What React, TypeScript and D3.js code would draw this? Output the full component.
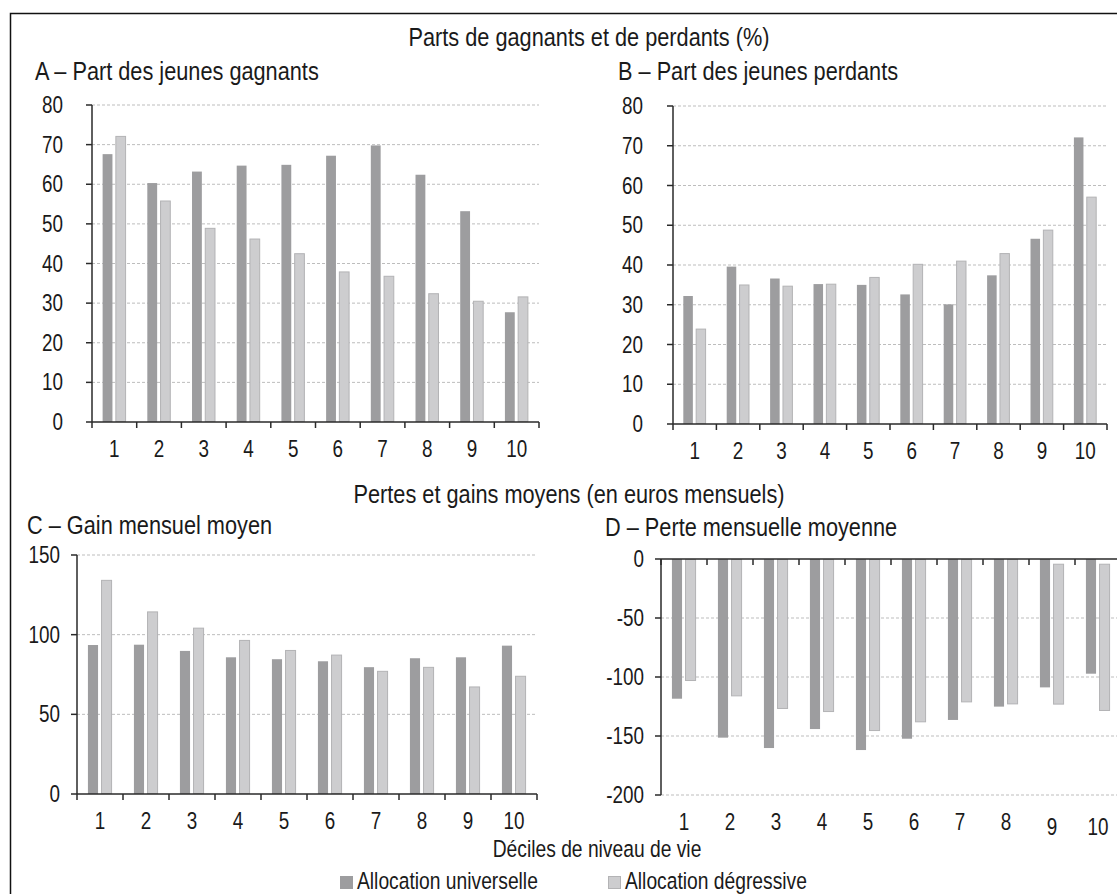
import React, { useEffect, useRef } from 'react';
import * as d3 from 'd3';

// déciles de niveau de vie
const deciles = ['1', '2', '3', '4', '5', '6', '7', '8', '9', '10'];
const seriesNames = ['Allocation universelle', 'Allocation dégressive'];

// A – part des jeunes gagnants (%)
const gagnantsUniv = [67.6, 60.3, 63.2, 64.7, 64.9, 67.2, 69.8, 62.4, 53.2, 27.7];
const gagnantsDegr = [72.2, 55.9, 49.0, 46.3, 42.6, 38.0, 36.9, 32.5, 30.6, 31.7];

// B – part des jeunes perdants (%)
const perdantsUniv = [32.2, 39.6, 36.6, 35.2, 35.0, 32.6, 30.1, 37.4, 46.6, 72.1];
const perdantsDegr = [24.0, 35.1, 34.8, 35.3, 37.0, 40.3, 41.1, 43.0, 48.9, 57.2];

// C – gain mensuel moyen (euros)
const gainUniv = [93.5, 93.7, 89.8, 85.8, 84.6, 83.3, 79.6, 85.2, 85.8, 93.1];
const gainDegr = [134.4, 114.6, 104.4, 96.7, 90.4, 87.5, 77.3, 79.8, 67.5, 74.2];

// D – perte mensuelle moyenne (euros)
const perteUniv = [-118.4, -151.4, -160.2, -144.1, -161.9, -152.3, -136.4, -125.1, -108.8, -97.2];
const perteDegr = [-103.4, -116.4, -127.1, -129.7, -145.8, -138.4, -121.5, -123.2, -123.4, -128.8];
// dans l'original les barres 9 et 10 ne partent pas tout à fait de 0
const perteDegrStart = [0, 0, 0, 0, 0, 0, 0, 0, -4, -4];

const pctTicks = [0, 10, 20, 30, 40, 50, 60, 70, 80];
const gainTicks = [0, 50, 100, 150];
const perteTicks = [0, -50, -100, -150, -200];

// pas de police étroite installée : Liberation Sans compressée horizontalement
const FONT = "'Liberation Sans', Arial, sans-serif";
const SX = 0.82;
const DARK = '#9d9d9f';
const LIGHT = '#cdcdcf';
const LIGHT_STROKE = '#b3b3b5';
const AXIS = '#2a2a2a';
const TEXT = '#1a1a1a';

const place = (x: number, y: number) => `translate(${x},${y}) scale(${SX},1)`;

type Panel = {
  title: string;
  titleX: number;
  titleY: number;
  x0: number;
  x1: number;
  yTop: number;
  yBottom: number;
  domain: [number, number];
  ticks: number[];
  univ: number[];
  degr: number[];
  degrStart?: number[];
  labelGap: number;
  axisOnTop?: boolean;
};

const panels: Panel[] = [
  {
    title: 'A – Part des jeunes gagnants', titleX: 35, titleY: 80,
    x0: 92, x1: 539, yTop: 105, yBottom: 422, domain: [0, 80], ticks: pctTicks,
    univ: gagnantsUniv, degr: gagnantsDegr, labelGap: 29,
  },
  {
    title: 'B – Part des jeunes perdants', titleX: 618, titleY: 80,
    x0: 673, x1: 1107, yTop: 106, yBottom: 424, domain: [0, 80], ticks: pctTicks,
    univ: perdantsUniv, degr: perdantsDegr, labelGap: 30,
  },
  {
    title: 'C – Gain mensuel moyen', titleX: 27, titleY: 534,
    x0: 77, x1: 537, yTop: 555, yBottom: 794, domain: [0, 150], ticks: gainTicks,
    univ: gainUniv, degr: gainDegr, labelGap: 17,
  },
  {
    title: 'D – Perte mensuelle moyenne', titleX: 605, titleY: 536,
    x0: 661, x1: 1121, yTop: 559, yBottom: 795, domain: [-200, 0], ticks: perteTicks,
    univ: perteUniv, degr: perteDegr, degrStart: perteDegrStart, labelGap: 17, axisOnTop: true,
  },
];

function drawPanel(svg: d3.Selection<SVGSVGElement, unknown, null, undefined>, p: Panel) {
  const g = svg.append('g');

  const x = d3.scaleBand<string>().domain(deciles).range([p.x0, p.x1]).padding(0);
  const y = d3.scaleLinear().domain(p.domain).range([p.yBottom, p.yTop]);
  const bw = x.bandwidth();

  // largeur des barres en fraction de la bande
  const wDark = 0.22, gap = 0.065, wLight = 0.24;
  const off = (1 - (wDark + gap + wLight)) / 2;

  g.append('text')
    .attr('transform', place(p.titleX, p.titleY))
    .attr('fill', TEXT)
    .style('font-size', '26.5px')
    .text(p.title);

  // grille pointillée
  g.selectAll('line.grid')
    .data(p.ticks.filter(t => t !== 0))
    .join('line')
    .attr('class', 'grid')
    .attr('x1', p.x0)
    .attr('x2', p.x1)
    .attr('y1', d => y(d))
    .attr('y2', d => y(d))
    .attr('stroke', '#bdbdbd')
    .attr('stroke-width', 1)
    .attr('stroke-dasharray', '3,2');

  const start = p.degrStart || p.degr.map(() => 0);

  g.selectAll('rect.univ')
    .data(p.univ)
    .join('rect')
    .attr('class', 'univ')
    .attr('x', (_, i) => x(deciles[i])! + bw * off)
    .attr('width', bw * wDark)
    .attr('y', d => y(Math.max(0, d)))
    .attr('height', d => Math.abs(y(d) - y(0)))
    .attr('fill', DARK);

  g.selectAll('rect.degr')
    .data(p.degr)
    .join('rect')
    .attr('class', 'degr')
    .attr('x', (_, i) => x(deciles[i])! + bw * (off + wDark + gap) + 0.5)
    .attr('width', bw * wLight - 1)
    .attr('y', (d, i) => Math.min(y(d), y(start[i])) + 0.5)
    .attr('height', (d, i) => Math.abs(y(d) - y(start[i])) - 1)
    .attr('fill', LIGHT)
    .attr('stroke', LIGHT_STROKE)
    .attr('stroke-width', 1);

  // axe vertical
  g.append('line')
    .attr('x1', p.x0).attr('x2', p.x0)
    .attr('y1', p.yTop).attr('y2', p.yBottom)
    .attr('stroke', AXIS).attr('stroke-width', 1.5);

  g.selectAll('line.ytick')
    .data(p.ticks)
    .join('line')
    .attr('class', 'ytick')
    .attr('x1', p.x0 - 6).attr('x2', p.x0)
    .attr('y1', d => y(d)).attr('y2', d => y(d))
    .attr('stroke', AXIS).attr('stroke-width', 1.5);

  g.selectAll('text.ylab')
    .data(p.ticks)
    .join('text')
    .attr('class', 'ylab')
    .attr('transform', d => place(p.x0 - p.labelGap, y(d)))
    .attr('dy', '0.35em')
    .attr('text-anchor', 'end')
    .attr('fill', TEXT)
    .style('font-size', '23px')
    .text(d => String(d));

  // axe horizontal sur la ligne du zéro, graduations entre les déciles
  const y0 = y(0);
  const bounds = [...deciles.map(d => x(d)!), p.x1];
  g.append('line')
    .attr('x1', p.x0).attr('x2', p.x1)
    .attr('y1', y0).attr('y2', y0)
    .attr('stroke', AXIS).attr('stroke-width', 1.5);

  g.selectAll('line.xtick')
    .data(bounds)
    .join('line')
    .attr('class', 'xtick')
    .attr('x1', d => d).attr('x2', d => d)
    .attr('y1', y0).attr('y2', y0 + 6)
    .attr('stroke', AXIS).attr('stroke-width', 1.5);

  const labelY = p.yBottom + 27;
  g.selectAll('text.xlab')
    .data(deciles)
    .join('text')
    .attr('class', 'xlab')
    .attr('transform', (d, i) => place(x(d)! + bw / 2, labelY + (p.axisOnTop && i >= 8 ? 5 : 0)))
    .attr('dy', '0.35em')
    .attr('text-anchor', 'middle')
    .attr('fill', TEXT)
    .style('font-size', '23px')
    .text(d => d);
}

const App: React.FC = () => {
  const svgRef = useRef<SVGSVGElement>(null);
  const width = 1117;
  const height = 894;

  useEffect(() => {
    const svg = d3.select(svgRef.current!);
    svg.selectAll('*').remove();
    svg.style('font-family', FONT);

    svg.append('rect')
      .attr('width', width).attr('height', height)
      .attr('fill', '#fff');

    // cadre (bords droit et bas hors de l'image)
    svg.append('rect')
      .attr('x', 10.5).attr('y', 13.5)
      .attr('width', 1200).attr('height', 1000)
      .attr('fill', 'none')
      .attr('stroke', '#111')
      .attr('stroke-width', 1.5);

    svg.append('text')
      .attr('transform', place(589, 46))
      .attr('text-anchor', 'middle')
      .attr('fill', TEXT)
      .style('font-size', '26.5px')
      .text('Parts de gagnants et de perdants (%)');

    svg.append('text')
      .attr('transform', place(569, 503))
      .attr('text-anchor', 'middle')
      .attr('fill', TEXT)
      .style('font-size', '26.5px')
      .text('Pertes et gains moyens (en euros mensuels)');

    panels.forEach(p => drawPanel(svg, p));

    svg.append('text')
      .attr('transform', place(597, 857))
      .attr('text-anchor', 'middle')
      .attr('fill', TEXT)
      .style('font-size', '23.5px')
      .text('Déciles de niveau de vie');

    // légende
    const legend = [
      { name: seriesNames[0], x: 340, fill: DARK, stroke: DARK },
      { name: seriesNames[1], x: 608, fill: LIGHT, stroke: LIGHT_STROKE },
    ];
    const lg = svg.selectAll('g.legend')
      .data(legend)
      .join('g')
      .attr('class', 'legend')
      .attr('transform', d => `translate(${d.x},876)`);
    lg.append('rect')
      .attr('x', 0.5).attr('y', 0.5)
      .attr('width', 12).attr('height', 12)
      .attr('fill', d => d.fill)
      .attr('stroke', d => d.stroke);
    lg.append('text')
      .attr('transform', place(17, 12.5))
      .attr('fill', TEXT)
      .style('font-size', '23.5px')
      .text(d => d.name);
  }, []);

  return (
    <>
      <style>{'body{margin:0}'}</style>
      <svg ref={svgRef} width={width} height={height} style={{ display: 'block' }} />
    </>
  );
};

export default App;
